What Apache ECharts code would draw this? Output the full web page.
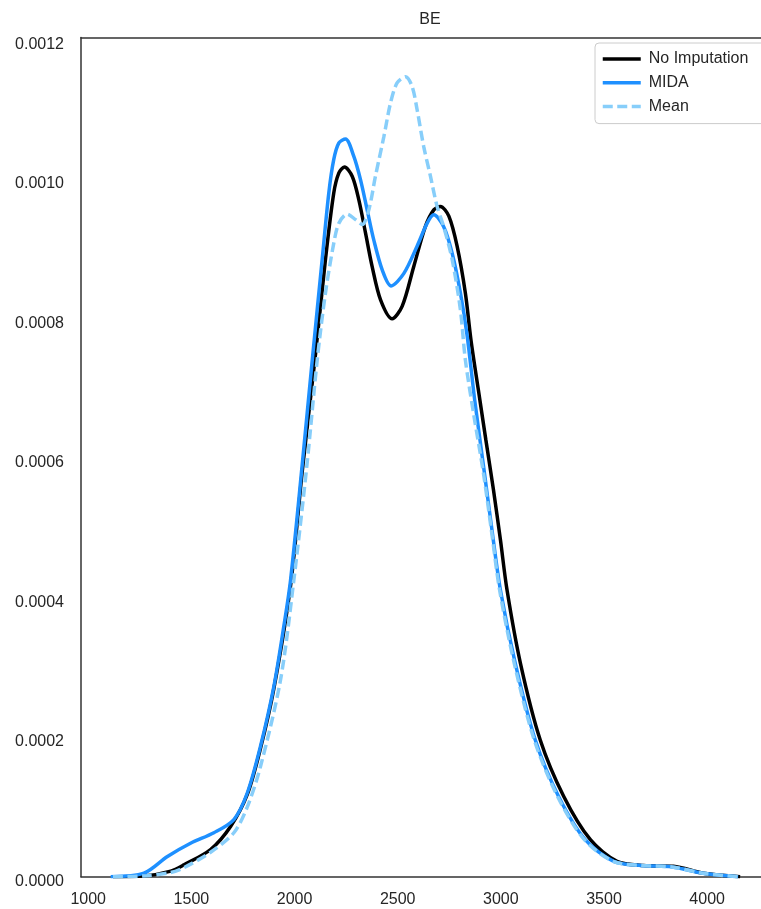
<!DOCTYPE html>
<html>
<head>
<meta charset="utf-8">
<script src="https://cdn.jsdelivr.net/npm/echarts@6/dist/echarts.min.js"></script>
<style>
html,body{margin:0;padding:0;background:#fff;}
#chart{width:761px;height:909px;}
</style>
</head>
<body>
<div id="chart"></div>
<script>
var title = 'BE';
var seriesNames = ['No Imputation', 'MIDA', 'Mean'];
var xTicks = [1000, 1500, 2000, 2500, 3000, 3500, 4000];
var yTicks = [0, 0.0002, 0.0004, 0.0006, 0.0008, 0.0010, 0.0012];

var noImpX = [1120, 1270, 1400, 1464, 1593, 1690, 1771, 1835, 1900, 1981, 2037, 2102, 2150, 2190, 2215, 2242, 2280, 2312, 2344, 2376, 2417, 2473, 2522, 2578, 2634, 2675, 2707, 2748, 2788, 2828, 2855, 2891, 2927, 2964, 2998, 3030, 3095, 3191, 3305, 3434, 3563, 3692, 3837, 3982, 4160];
var noImpY = [0, 0.000001, 0.000008, 0.000017, 0.000039, 0.000072, 0.000118, 0.000184, 0.000270, 0.000418, 0.000580, 0.000750, 0.000885, 0.000980, 0.001009, 0.0010175, 0.001004, 0.000970, 0.000923, 0.000875, 0.000827, 0.000800, 0.000818, 0.000875, 0.000932, 0.000956, 0.000961, 0.000947, 0.000904, 0.000837, 0.000770, 0.000698, 0.000627, 0.000555, 0.000483, 0.000411, 0.000306, 0.000196, 0.000115, 0.000053, 0.000022, 0.000016, 0.000015, 0.000005, 0];

var midaX = [1109, 1270, 1384, 1496, 1609, 1706, 1771, 1835, 1900, 1948, 1981, 2037, 2086, 2134, 2166, 2190, 2215, 2247, 2287, 2320, 2352, 2384, 2425, 2468, 2530, 2594, 2643, 2675, 2723, 2764, 2804, 2837, 2873, 2915, 2957, 2998, 3070, 3167, 3280, 3409, 3547, 3680, 3830, 3980, 4150];
var midaY = [0, 0.000005, 0.000029, 0.000048, 0.000063, 0.000082, 0.000120, 0.000187, 0.000273, 0.000359, 0.000426, 0.000590, 0.000741, 0.000885, 0.000980, 0.001028, 0.001052, 0.0010576, 0.001033, 0.000999, 0.000956, 0.000913, 0.000870, 0.000847, 0.000865, 0.000904, 0.000937, 0.000949, 0.000932, 0.000894, 0.000837, 0.000775, 0.000684, 0.000591, 0.000497, 0.000411, 0.000306, 0.000196, 0.000115, 0.000053, 0.000022, 0.000016, 0.000014, 0.000005, 0];

var meanX = [1120, 1270, 1400, 1464, 1593, 1706, 1771, 1835, 1932, 1997, 2060, 2110, 2150, 2190, 2215, 2255, 2296, 2328, 2360, 2392, 2433, 2465, 2497, 2538, 2570, 2594, 2626, 2659, 2691, 2723, 2764, 2804, 2828, 2870, 2915, 2955, 2994, 3065, 3162, 3275, 3405, 3545, 3680, 3830, 3980, 4150];
var meanY = [0, 0.000001, 0.000006, 0.000013, 0.000035, 0.000063, 0.000100, 0.000158, 0.000282, 0.000426, 0.000590, 0.000741, 0.000837, 0.000908, 0.000937, 0.000950, 0.000942, 0.000935, 0.000956, 0.001004, 0.001061, 0.001109, 0.001138, 0.001147, 0.001133, 0.001100, 0.001047, 0.001004, 0.000961, 0.000932, 0.000885, 0.000813, 0.000741, 0.000660, 0.000580, 0.000495, 0.000411, 0.000306, 0.000196, 0.000115, 0.000053, 0.000022, 0.000016, 0.000014, 0.000005, 0];

function pairs(xs, ys) { return xs.map(function (x, i) { return [x, ys[i]]; }); }

var chart = echarts.init(document.getElementById('chart'), null, {renderer: 'canvas'});
var font = 'Liberation Sans, Arial, sans-serif';
var textColor = '#262626';
var spine = {show: true, lineStyle: {color: '#333333', width: 1.5}};

chart.setOption({
  animation: false,
  backgroundColor: '#ffffff',
  title: {
    text: title,
    left: 425, top: 7, textAlign: 'center',
    textStyle: {fontFamily: font, fontSize: 16, fontWeight: 'normal', color: textColor}
  },
  grid: {
    left: 81, top: 37.5, right: 0, bottom: 32.3
  },
  legend: {
    data: seriesNames,
    orient: 'vertical',
    left: 595, top: 43,
    padding: [8, 30, 9, 6],
    itemWidth: 38, itemHeight: 16, itemGap: 7.8,
    backgroundColor: '#ffffff',
    borderColor: '#cccccc', borderWidth: 1, borderRadius: 4,
    itemStyle: {opacity: 0},
    lineStyle: {width: 3.5},
    textStyle: {fontFamily: font, fontSize: 16, color: textColor, padding: [0, 0, 0, 3]}
  },
  xAxis: [
    {
      type: 'value', min: 965, max: 4261, position: 'bottom',
      axisLine: spine,
      axisTick: {show: false},
      splitLine: {show: false},
      axisLabel: {
        customValues: xTicks,
        fontFamily: font, fontSize: 16, color: textColor, margin: 15,
        formatter: function (v) { return String(v); }
      }
    },
    {
      type: 'value', min: 965, max: 4261, position: 'top',
      axisLine: spine,
      axisTick: {show: false},
      splitLine: {show: false},
      axisLabel: {show: false}
    }
  ],
  yAxis: {
    type: 'value', min: 0, max: 0.0012032,
    axisLine: spine,
    axisTick: {show: false},
    splitLine: {show: false},
    axisLabel: {
      customValues: yTicks,
      fontFamily: font, fontSize: 16, color: textColor, margin: 17,
      verticalAlign: 'top', lineHeight: 9,
      formatter: function (v) { return v.toFixed(4); }
    }
  },
  series: [
    {
      name: seriesNames[0], type: 'line', data: pairs(noImpX, noImpY),
      smooth: 0.3, showSymbol: false, symbol: 'none',
      lineStyle: {color: '#000000', width: 3.5},
      itemStyle: {color: '#000000'}
    },
    {
      name: seriesNames[1], type: 'line', data: pairs(midaX, midaY),
      smooth: 0.3, showSymbol: false, symbol: 'none',
      lineStyle: {color: '#1e90ff', width: 3.5},
      itemStyle: {color: '#1e90ff'}
    },
    {
      name: seriesNames[2], type: 'line', data: pairs(meanX, meanY),
      smooth: 0.3, showSymbol: false, symbol: 'none',
      lineStyle: {color: '#87cefa', width: 3.5, type: [10, 4.5]},
      itemStyle: {color: '#87cefa'}
    }
  ]
});
</script>
</body>
</html>
